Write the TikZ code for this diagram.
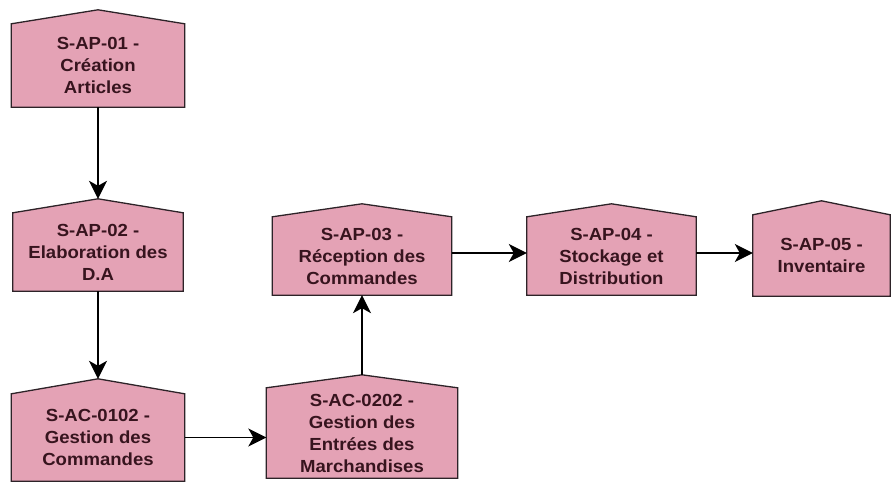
\documentclass[tikz,border=0pt]{standalone}
\usepackage{fontspec}
\setmainfont{Liberation Sans}
\newfontfamily\procfont{Liberation Sans}[FakeStretch=1.06]
\usetikzlibrary{arrows.meta,backgrounds}
\definecolor{boxpink}{RGB}{228,162,181}
\definecolor{boxline}{RGB}{45,35,40}
\definecolor{boxtext}{RGB}{55,20,30}

\begin{document}
\begin{tikzpicture}[x=1pt, y=-1pt, >={Stealth[length=18pt,width=18pt,inset=5pt]},
  proc/.style={rectangle, inner sep=0pt, align=center, text=boxtext,
    font=\procfont\bfseries\fontsize{17.5}{22}\selectfont},
  roof/.style={fill=boxpink, draw=boxline, line width=1.3pt, line join=miter},
  flow/.style={->, line width=1.3pt, black}]
  \useasboundingbox (0,0) rectangle (893,484);

  % Processes
  \node[proc, minimum width=173pt, minimum height=83pt] (ap1) at (98,65.5) {S-AP-01 -\\Création\\Articles};
  \node[proc, minimum width=170pt, minimum height=78pt] (ap2) at (98,252) {S-AP-02 -\\Elaboration des\\D.A};
  \node[proc, minimum width=173pt, minimum height=87pt] (ac1) at (98,437.5) {S-AC-0102 -\\Gestion des\\Commandes};
  \node[proc, minimum width=191pt, minimum height=90pt] (ac2) at (362,433) {S-AC-0202 -\\Gestion des\\Entrées des\\Marchandises};
  \node[proc, minimum width=179pt, minimum height=78pt] (ap3) at (362,256) {S-AP-03 -\\Réception des\\Commandes};
  \node[proc, minimum width=169pt, minimum height=78pt] (ap4) at (611.5,256) {S-AP-04 -\\Stockage et\\Distribution};
  \node[proc, minimum width=137pt, minimum height=81pt] (ap5) at (821.5,255.5) {S-AP-05 -\\Inventaire};

  % Box outlines with their roofs
  \begin{scope}[on background layer]
    \foreach \n/\r in {ap1/14, ap2/14, ac1/15, ac2/13, ap3/13, ap4/13, ap5/14}
      \draw[roof] (\n.south west) -- (\n.north west) -- ([yshift=\r pt]\n.north)
        -- (\n.north east) -- (\n.south east) -- cycle;
  \end{scope}

  % Flow
  \draw[flow] (ap1.south) -- ([yshift=14pt]ap2.north);
  \draw[flow] (ap2.south) -- ([yshift=15pt]ac1.north);
  \draw[flow] (ac1.east) -- (ac1.east -| ac2.west);
  \draw[flow] ([yshift=13pt]ac2.north) -- (ap3.south);
  \draw[flow] ([yshift=3pt]ap3.east) -- ([yshift=3pt]ap3.east -| ap4.west);
  \draw[flow] ([yshift=3pt]ap4.east) -- ([yshift=3pt]ap4.east -| ap5.west);
\end{tikzpicture}
\end{document}
